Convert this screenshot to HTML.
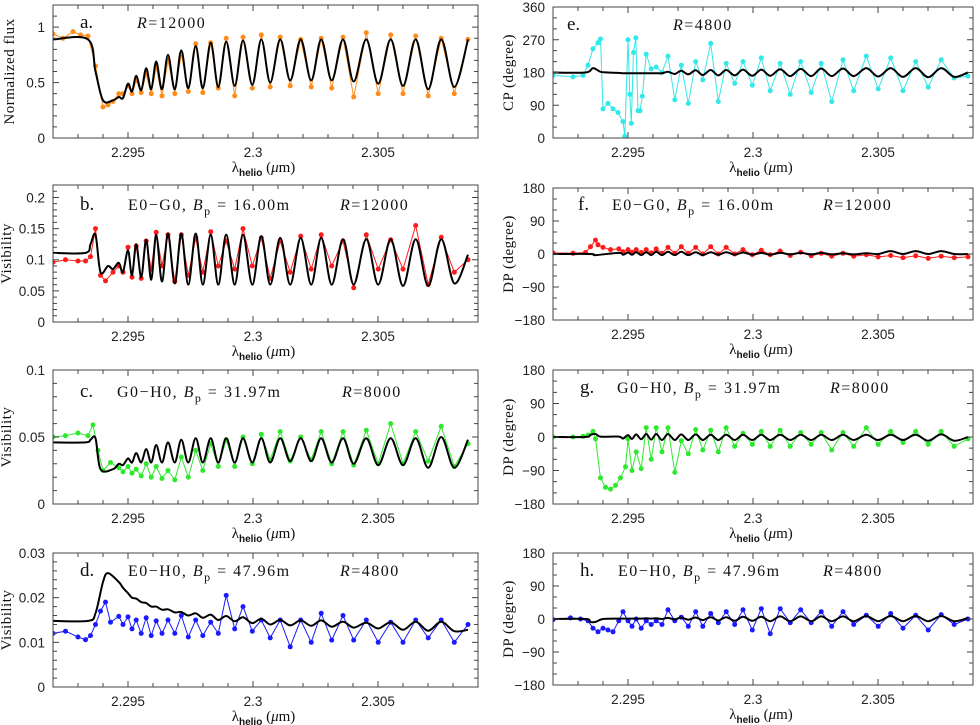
<!DOCTYPE html>
<html><head><meta charset="utf-8">
<style>
html,body{margin:0;padding:0;background:#fff;}
svg{display:block;font-family:"Liberation Sans",sans-serif;}
.tl{font-size:13.5px;fill:#222;}
.ann{font-family:"Liberation Serif",serif;font-size:16px;fill:#111;letter-spacing:1.5px;}
.lt{font-family:"Liberation Serif",serif;font-size:19px;fill:#111;}
.ax{font-size:13px;fill:#111;}
.yt{font-family:"Liberation Serif",serif;font-size:15px;fill:#111;letter-spacing:0.5px;}
</style></head>
<body>
<svg id="fig" width="980" height="725" viewBox="0 0 980 725" xmlns="http://www.w3.org/2000/svg"></svg>
<script>
// ---- shared wavelength knots (CO line minima and inter-line maxima, micron) ----
const LINES=[2.2948,2.29516,2.29553,2.29593,2.29636,2.29687,2.29741,2.29799,2.29861,2.29927,2.29997,2.30069,2.30149,2.30233,2.30315,2.30403,2.30501,2.30600,2.30701,2.30805];
const PEAKS=[2.29463,2.29500,2.29533,2.29573,2.29613,2.29660,2.29713,2.29771,2.29831,2.29893,2.29960,2.30033,2.30109,2.30191,2.30273,2.30360,2.30453,2.30551,2.30651,2.30753,2.30860];
const xTicks=[2.295,2.3,2.305];
const xTickLabels=['2.295','2.3','2.305'];

// ---- panel a: normalized flux ----
const aModelPreWl=[2.292,2.2934,2.2937,2.2940,2.2944];
const aModelPre=[0.89,0.89,0.60,0.34,0.34];
const aModelHi=[0.37,0.49,0.56,0.63,0.69,0.75,0.79,0.83,0.86,0.87,0.88,0.89,0.89,0.89,0.89,0.89,0.89,0.89,0.89,0.89,0.89];
const aModelLo=[0.36,0.42,0.43,0.44,0.44,0.44,0.45,0.45,0.46,0.47,0.48,0.50,0.52,0.52,0.52,0.51,0.49,0.47,0.44,0.46];
const aDataPreWl=[2.292,2.2924,2.2928,2.2931,2.2934,2.2937,2.2940,2.2942,2.2944];
const aDataPre=[0.94,0.90,0.96,0.93,0.92,0.65,0.28,0.30,0.33];
const aDataHi=[0.40,0.47,0.52,0.58,0.64,0.70,0.76,0.85,0.86,0.90,0.91,0.93,0.91,0.89,0.90,0.91,0.95,0.93,0.92,0.90,0.89];
const aDataLo=[0.40,0.40,0.41,0.40,0.38,0.40,0.42,0.41,0.45,0.38,0.45,0.46,0.47,0.46,0.45,0.37,0.40,0.40,0.38,0.40];
const aYTicks=[0,0.5,1]; const aYLabels=['0','0.5','1'];

// ---- panel b: visibility E0-G0 ----
const bModelPreWl=[2.292,2.2933,2.2935,2.2937,2.2939,2.2942,2.2944];
const bModelPre=[0.111,0.111,0.125,0.140,0.080,0.090,0.085];
const bModelHi=[0.095,0.115,0.125,0.132,0.140,0.142,0.142,0.142,0.140,0.140,0.140,0.138,0.135,0.135,0.135,0.133,0.133,0.133,0.133,0.133,0.108];
const bModelLo=[0.080,0.075,0.072,0.068,0.065,0.062,0.060,0.060,0.060,0.060,0.060,0.060,0.060,0.060,0.060,0.060,0.060,0.058,0.058,0.062];
const bDataPreWl=[2.292,2.2925,2.2930,2.2933,2.2935,2.2937,2.2939,2.2941,2.2944];
const bDataPre=[0.096,0.100,0.098,0.098,0.105,0.150,0.075,0.066,0.080];
const bDataHi=[0.090,0.120,0.122,0.130,0.144,0.140,0.140,0.135,0.145,0.130,0.150,0.135,0.130,0.138,0.140,0.130,0.140,0.132,0.155,0.136,0.100];
const bDataLo=[0.080,0.072,0.070,0.085,0.090,0.065,0.075,0.080,0.090,0.085,0.090,0.070,0.080,0.085,0.090,0.055,0.085,0.085,0.060,0.080];
const bYTicks=[0,0.05,0.1,0.15,0.2]; const bYLabels=['0','0.05','0.1','0.15','0.2'];

// ---- panel c: visibility G0-H0 ----
const cModelPreWl=[2.292,2.2933,2.2935,2.2937,2.2939,2.2944];
const cModelPre=[0.046,0.046,0.048,0.049,0.026,0.026];
const cModelHi=[0.030,0.034,0.038,0.041,0.044,0.046,0.048,0.049,0.049,0.049,0.049,0.049,0.049,0.049,0.049,0.049,0.049,0.049,0.049,0.050,0.048];
const cModelLo=[0.029,0.031,0.031,0.031,0.031,0.031,0.031,0.031,0.031,0.031,0.031,0.031,0.032,0.032,0.031,0.030,0.029,0.029,0.027,0.027];
const cDataPreWl=[2.292,2.2925,2.2930,2.2934,2.2936,2.2938,2.2940,2.2943];
const cDataPre=[0.050,0.051,0.053,0.051,0.059,0.040,0.025,0.031];
const cDataHi=[0.027,0.028,0.026,0.030,0.028,0.025,0.035,0.040,0.045,0.048,0.050,0.052,0.054,0.050,0.054,0.054,0.055,0.060,0.054,0.058,0.045];
const cDataLo=[0.024,0.023,0.021,0.020,0.019,0.018,0.020,0.025,0.028,0.028,0.030,0.033,0.032,0.033,0.030,0.029,0.030,0.030,0.032,0.028];
const cYTicks=[0,0.05,0.1]; const cYLabels=['0','0.05','0.1'];

// ---- panel d: visibility E0-H0 ----
const dModelPreWl=[2.292,2.2934,2.2937,2.2940,2.2942];
const dModelPre=[0.0148,0.0148,0.0165,0.0235,0.0255];
const dModelHi=[0.0235,0.0210,0.0198,0.0188,0.0180,0.0174,0.0168,0.0165,0.0162,0.0159,0.0156,0.0153,0.0150,0.0149,0.0149,0.0146,0.0144,0.0145,0.0146,0.0146,0.0128];
const dModelLo=[0.0222,0.0200,0.0190,0.0180,0.0173,0.0167,0.0160,0.0155,0.0150,0.0147,0.0143,0.0140,0.0138,0.0137,0.0135,0.0133,0.0131,0.0128,0.0126,0.0125];
const dDataPreWl=[2.292,2.2925,2.2930,2.2933,2.2935,2.2937,2.2939,2.2941,2.2943];
const dDataPre=[0.0120,0.0125,0.0112,0.0106,0.0115,0.0140,0.0170,0.0190,0.0145];
const dDataHi=[0.0158,0.0157,0.0150,0.0155,0.0148,0.0150,0.0160,0.0150,0.0145,0.0205,0.0180,0.0150,0.0150,0.0150,0.0165,0.0160,0.0150,0.0145,0.0150,0.0150,0.0140];
const dDataLo=[0.0140,0.0130,0.0120,0.0115,0.0120,0.0120,0.0112,0.0115,0.0120,0.0130,0.0125,0.0110,0.0090,0.0100,0.0105,0.0105,0.0100,0.0100,0.0110,0.0100];
const dYTicks=[0,0.01,0.02,0.03]; const dYLabels=['0','0.01','0.02','0.03'];

// ---- panel e: closure phase ----
const eModelPreWl=[2.292,2.2933,2.2936,2.2939,2.2942];
const eModelPre=[180,180,192,182,180];
const eModelHi=[179,178,178,178,178,182,185,186,187,187,188,188,189,190,191,191,192,192,192,192,180];
const eModelLo=[178,178,178,178,178,176,175,173,172,172,171,171,170,170,170,170,169,168,167,168];
const eDataPreWl=[2.292,2.2928,2.2932,2.2934,2.2936,2.2938,2.2939,2.2940,2.2942,2.2944,2.2946,2.2948,2.29487,2.2950,2.29507,2.29513,2.29522,2.29531,2.2954,2.29548,2.29557,2.29573];
const eDataPre=[172,168,172,200,245,262,272,80,95,80,70,45,5,270,120,40,235,275,75,75,115,230];
const eDataHi=[null,null,null,null,195,225,200,210,260,205,210,220,205,210,205,215,225,220,210,215,170];
const eDataLo=[null,null,null,190,180,105,95,160,100,150,145,130,120,125,100,130,135,130,140,165];
const degYTicks=[0,90,180,270,360]; const degYLabels=['0','90','180','270','360'];
const dpYTicks=[-180,-90,0,90,180]; const dpYLabels=['\u2212180','\u221290','0','90','180'];

// ---- panel f: DP E0-G0 ----
const fModelPreWl=[2.292,2.2935,2.2937];
const fModelPre=[0,0,-3];
const fModelHi=[3,4,5,5,6,6,6,5,5,5,4,3,3,3,3,2,2,8,8,8,0];
const fModelLo=[-2,-2,-3,-3,-3,-3,-3,-3,-2,-2,-2,-2,-1,-1,-1,-1,0,0,0,0];
const fDataPreWl=[2.292,2.2928,2.2933,2.2935,2.2937,2.2938,2.2940,2.2943];
const fDataPre=[3,2,4,20,38,25,18,12];
const fDataHi=[14,12,12,12,14,18,20,18,20,18,12,10,8,5,2,2,-2,-4,-5,-6,-8];
const fDataLo=[6,5,4,3,2,2,2,0,0,0,-2,-2,-4,-5,-6,-6,-8,-10,-12,-10];

// ---- panel g: DP G0-H0 ----
const gModelPreWl=[2.292,2.2933,2.2935,2.2937,2.2939];
const gModelPre=[0,0,6,8,1];
const gModelHi=[1,5,7,8,8,8,7,7,6,6,6,6,6,6,6,6,6,6,6,7,0];
const gModelLo=[-4,-5,-6,-7,-8,-8,-8,-8,-8,-8,-8,-8,-8,-8,-8,-8,-8,-8,-10,-10];
const gDataPreWl=[2.292,2.2928,2.2932,2.2934,2.2936,2.2937,2.2939,2.2941,2.2943,2.2945,2.2947,2.2949];
const gDataPre=[0,0,2,5,15,-5,-110,-135,-140,-130,-110,-80];
const gDataHi=[null,-5,-40,25,25,25,-10,20,18,25,10,15,18,12,12,12,25,15,15,15,-5];
const gDataLo=[null,-90,-85,-60,-40,-95,-45,-35,-40,-25,-20,-25,-25,-20,-35,-25,-20,-15,-20,-25];

// ---- panel h: DP E0-H0 ----
const hModelPreWl=[2.292,2.2933,2.2935,2.2937,2.2940];
const hModelPre=[0,0,-8,-8,0];
const hModelHi=[1,1,1,2,2,3,4,4,5,5,6,6,7,7,7,7,8,8,8,8,3];
const hModelLo=[1,1,1,1,0,-1,-2,-3,-4,-5,-5,-6,-6,-6,-6,-6,-6,-6,-6,-6];
const hDataPreWl=[2.292,2.2927,2.2931,2.2934,2.2936,2.2938,2.2940,2.2942,2.2944];
const hDataPre=[-2,3,0,-5,-25,-35,-25,-30,-35];
const hDataHi=[-5,-5,0,-5,-5,25,5,20,15,20,25,28,28,25,20,20,10,15,10,12,0];
const hDataLo=[20,-20,-25,-15,-15,-5,-20,-20,-10,-15,-30,-40,-10,-10,-20,-15,-20,-25,-30,-15];

const NS='http://www.w3.org/2000/svg';
const svg=document.getElementById('fig');
function mk(tag,attrs,parent){const e=document.createElementNS(NS,tag);for(const k in attrs)e.setAttribute(k,attrs[k]);(parent||svg).appendChild(e);return e;}

function knots(preWl,pre,hi,lo){
  const pts=preWl.map((w,i)=>[w,pre[i]]);
  const last=preWl[preWl.length-1];
  PEAKS.forEach((w,i)=>{if(hi[i]!==null&&hi[i]!==undefined&&w>last)pts.push([w,hi[i]]);});
  LINES.forEach((w,i)=>{if(lo[i]!==null&&lo[i]!==undefined&&w>last)pts.push([w,lo[i]]);});
  pts.sort((a,b)=>a[0]-b[0]);
  return pts;
}
function smoothPath(p){
  let d='M'+p[0][0].toFixed(1)+','+p[0][1].toFixed(1);
  for(let i=0;i<p.length-1;i++){
    const p0=p[Math.max(0,i-1)],p1=p[i],p2=p[i+1],p3=p[Math.min(p.length-1,i+2)];
    const c1x=p1[0]+(p2[0]-p0[0])/6,c1y=p1[1]+(p2[1]-p0[1])/6;
    const c2x=p2[0]-(p3[0]-p1[0])/6,c2y=p2[1]-(p3[1]-p1[1])/6;
    d+='C'+c1x.toFixed(1)+','+c1y.toFixed(1)+' '+c2x.toFixed(1)+','+c2y.toFixed(1)+' '+p2[0].toFixed(1)+','+p2[1].toFixed(1);
  }
  return d;
}

const panels=[
 {id:'a',L:53,R:478,T:5,B:138,x1:2.309,ymin:0,ymax:1.2,minor:0.1,yt:aYTicks,yl:aYLabels,col:'#ff8c1a',ytitle:'Normalized flux',
  m:[aModelPreWl,aModelPre,aModelHi,aModelLo],d:[aDataPreWl,aDataPre,aDataHi,aDataLo],letter:'a.',lx:80,ly:28,base:null,rx:137},
 {id:'b',L:53,R:478,T:185,B:322,x1:2.309,ymin:0,ymax:0.22,minor:0.01,yt:bYTicks,yl:bYLabels,col:'#ff1a1a',ytitle:'Visibility',
  m:[bModelPreWl,bModelPre,bModelHi,bModelLo],d:[bDataPreWl,bDataPre,bDataHi,bDataLo],letter:'b.',lx:80,ly:210,base:['E0\u2212G0, ','16.00m'],bx:128,rx:340},
 {id:'c',L:53,R:478,T:370,B:504,x1:2.309,ymin:0,ymax:0.1,minor:0.01,yt:cYTicks,yl:cYLabels,col:'#2ee82e',ytitle:'Visibility',
  m:[cModelPreWl,cModelPre,cModelHi,cModelLo],d:[cDataPreWl,cDataPre,cDataHi,cDataLo],letter:'c.',lx:80,ly:397,base:['G0\u2212H0, ','31.97m'],bx:117,rx:342,rtxt:'=8000'},
 {id:'d',L:53,R:478,T:553,B:687,x1:2.309,ymin:0,ymax:0.03,minor:0.002,yt:dYTicks,yl:dYLabels,col:'#1a1aff',ytitle:'Visibility',
  m:[dModelPreWl,dModelPre,dModelHi,dModelLo],d:[dDataPreWl,dDataPre,dDataHi,dDataLo],letter:'d.',lx:80,ly:576,base:['E0\u2212H0, ','47.96m'],bx:128,rx:340,rtxt:'=4800'},
 {id:'e',L:553,R:973,T:7,B:138,x1:2.3088,ymin:0,ymax:360,minor:30,yt:degYTicks,yl:degYLabels,col:'#33e8e8',ytitle:'CP (degree)',
  m:[eModelPreWl,eModelPre,eModelHi,eModelLo],d:[eDataPreWl,eDataPre,eDataHi,eDataLo],letter:'e.',lx:567,ly:30,base:null,rx:673,rtxt:'=4800'},
 {id:'f',L:553,R:973,T:188,B:320,x1:2.3088,ymin:-180,ymax:180,minor:30,yt:dpYTicks,yl:dpYLabels,col:'#ff1a1a',ytitle:'DP (degree)',
  m:[fModelPreWl,fModelPre,fModelHi,fModelLo],d:[fDataPreWl,fDataPre,fDataHi,fDataLo],letter:'f.',lx:578,ly:210,base:['E0\u2212G0, ','16.00m'],bx:612,rx:823},
 {id:'g',L:553,R:973,T:370,B:504,x1:2.3088,ymin:-180,ymax:180,minor:30,yt:dpYTicks,yl:dpYLabels,col:'#2ee82e',ytitle:'DP (degree)',
  m:[gModelPreWl,gModelPre,gModelHi,gModelLo],d:[gDataPreWl,gDataPre,gDataHi,gDataLo],letter:'g.',lx:580,ly:393,base:['G0\u2212H0, ','31.97m'],bx:617,rx:830,rtxt:'=8000'},
 {id:'h',L:553,R:973,T:553,B:685,x1:2.3088,ymin:-180,ymax:180,minor:30,yt:dpYTicks,yl:dpYLabels,col:'#1a1aff',ytitle:'DP (degree)',
  m:[hModelPreWl,hModelPre,hModelHi,hModelLo],d:[hDataPreWl,hDataPre,hDataHi,hDataLo],letter:'h.',lx:580,ly:576,base:['E0\u2212H0, ','47.96m'],bx:618,rx:823,rtxt:'=4800'}
];

panels.forEach(P=>{
  const g=mk('g',{});
  
  
  const X=w=>P.L+(w-2.292)/(P.x1-2.292)*(P.R-P.L);
  const Y=v=>P.B-(v-P.ymin)/(P.ymax-P.ymin)*(P.B-P.T);
  const cp=mk('clipPath',{id:'clip'+P.id},g);
  mk('rect',{x:P.L,y:P.T,width:P.R-P.L,height:P.B-P.T},cp);
  const dp=knots(...P.d).map(p=>[X(p[0]),Y(p[1])]);
  const dg=mk('g',{'clip-path':'url(#clip'+P.id+')'},g);
  
  
  mk('polyline',{points:dp.map(p=>p[0].toFixed(1)+','+p[1].toFixed(1)).join(' '),fill:'none',stroke:P.col,'stroke-width':1},dg);
  dp.forEach(p=>{const c=mk('circle',{cx:p[0].toFixed(1),cy:p[1].toFixed(1),r:2.5,fill:P.col},dg);
    
    });
  const mp=knots(...P.m).map(p=>[X(p[0]),Y(p[1])]);
  const ml=mk('path',{d:smoothPath(mp),fill:'none',stroke:'#000','stroke-width':2,'clip-path':'url(#clip'+P.id+')'},g);
  
  
  const fr=mk('rect',{x:P.L,y:P.T,width:P.R-P.L,height:P.B-P.T,fill:'none',stroke:'#444','stroke-width':1},g);
  
  
  let tk='';
  for(let k=0;k*0.001+2.292<=P.x1+1e-9;k++){const w=2.292+k*0.001;const x=X(w);const major=(k%5===3);const len=major?6:4;
    tk+='M'+x+','+P.B+'v-'+len+'M'+x+','+P.T+'v'+len;}
  for(let k=0;P.ymin+k*P.minor<=P.ymax+1e-9;k++){const v=P.ymin+k*P.minor;const y=Y(v);const major=P.yt.some(t=>Math.abs(t-v)<1e-9);const len=major?6:4;
    tk+='M'+P.L+','+y+'h'+len+'M'+P.R+','+y+'h-'+len;}
  mk('path',{d:tk,stroke:'#444','stroke-width':1,fill:'none'},g);
  xTicks.forEach((t,i)=>{const tx=mk('text',{x:X(t),y:P.B+19,'text-anchor':'middle',class:'tl'},g);tx.textContent=xTickLabels[i];
    
    });
  P.yt.forEach((t,i)=>{const tx=mk('text',{x:P.L-8,y:Y(t)+5,'text-anchor':'end',class:'tl'},g);tx.textContent=P.yl[i];
    
    });
  const xt=mk('text',{x:(P.L+P.R)/2-2,y:P.B+34,'text-anchor':'middle',class:'ax'},g);
  xt.innerHTML='<tspan font-family="Liberation Serif" font-size="15">\u03bb</tspan><tspan font-size="10" font-weight="bold" dy="4">helio</tspan><tspan dy="-4" font-family="Liberation Serif" font-size="15"> (<tspan font-style="italic">\u03bc</tspan>m)</tspan>';
  
  
  const yx=P.L-(P.id==='a'?39:(P.L>500?40:42));
  const yt=mk('text',{x:yx,y:(P.T+P.B)/2,'text-anchor':'middle',class:'yt',transform:'rotate(-90 '+yx+' '+((P.T+P.B)/2)+')'},g);
  yt.textContent=P.ytitle;
  
  
  const lt=mk('text',{x:P.lx,y:P.ly,class:'lt'},g);lt.textContent=P.letter;
  
  
  if(P.base){const bt=mk('text',{x:P.bx,y:P.ly,class:'ann'},g);
    bt.innerHTML=P.base[0]+'<tspan font-style="italic">B</tspan><tspan font-size="12" dy="5">p</tspan><tspan dy="-5"> = '+P.base[1]+'</tspan>';
    
    }
  const rt=mk('text',{x:P.rx,y:P.ly,class:'ann'},g);
  rt.innerHTML='<tspan font-style="italic">R</tspan>'+(P.rtxt||'=12000');
  
  
});
</script>
</body></html>
